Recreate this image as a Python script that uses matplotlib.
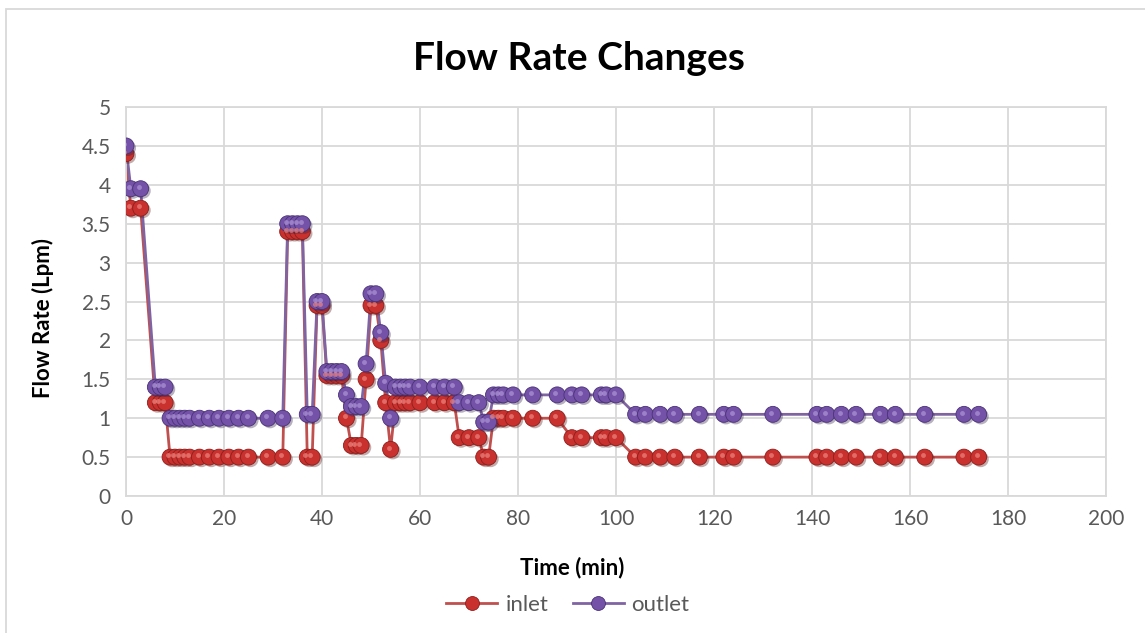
import matplotlib.pyplot as plt
import matplotlib.transforms as mtransforms
import matplotlib.patheffects as pe
from matplotlib.patches import Rectangle
from matplotlib.lines import Line2D

plt.rcParams['font.family'] = ['Lato', 'DejaVu Sans']

time = [0, 1, 3, 6, 7, 8, 9, 10, 11, 12, 13, 15, 17, 19, 21, 23, 25, 29, 32,
        33, 34, 35, 36, 37, 38, 39, 40, 41, 42, 43, 44, 45, 46, 47, 48, 49,
        50, 51, 52, 53, 54, 55, 56, 57, 58, 60, 63, 65, 67, 68, 70, 72, 73, 74,
        75, 76, 77, 79, 83, 88, 91, 93, 97, 98, 100, 104, 106, 109, 112, 117,
        122, 124, 132, 141, 143, 146, 149, 154, 157, 163, 171, 174]

inlet = [4.4, 3.7, 3.7, 1.2, 1.2, 1.2, 0.5, 0.5, 0.5, 0.5, 0.5, 0.5, 0.5, 0.5, 0.5, 0.5, 0.5, 0.5, 0.5,
         3.4, 3.4, 3.4, 3.4, 0.5, 0.5, 2.45, 2.45, 1.55, 1.55, 1.55, 1.55, 1.0, 0.65, 0.65, 0.65, 1.5,
         2.45, 2.45, 2.0, 1.2, 0.6, 1.2, 1.2, 1.2, 1.2, 1.2, 1.2, 1.2, 1.2, 0.75, 0.75, 0.75, 0.5, 0.5,
         1.0, 1.0, 1.0, 1.0, 1.0, 1.0, 0.75, 0.75, 0.75, 0.75, 0.75, 0.5, 0.5, 0.5, 0.5, 0.5,
         0.5, 0.5, 0.5, 0.5, 0.5, 0.5, 0.5, 0.5, 0.5, 0.5, 0.5, 0.5]

outlet = [4.5, 3.95, 3.95, 1.4, 1.4, 1.4, 1.0, 1.0, 1.0, 1.0, 1.0, 1.0, 1.0, 1.0, 1.0, 1.0, 1.0, 1.0, 1.0,
          3.5, 3.5, 3.5, 3.5, 1.05, 1.05, 2.5, 2.5, 1.6, 1.6, 1.6, 1.6, 1.3, 1.15, 1.15, 1.15, 1.7,
          2.6, 2.6, 2.1, 1.45, 1.0, 1.4, 1.4, 1.4, 1.4, 1.4, 1.4, 1.4, 1.4, 1.2, 1.2, 1.2, 0.95, 0.95,
          1.3, 1.3, 1.3, 1.3, 1.3, 1.3, 1.3, 1.3, 1.3, 1.3, 1.3, 1.05, 1.05, 1.05, 1.05, 1.05,
          1.05, 1.05, 1.05, 1.05, 1.05, 1.05, 1.05, 1.05, 1.05, 1.05, 1.05, 1.05]

series = [
    ('inlet', inlet, '#C0504D', '#C8312E', '#EE8580', '#8E1E1B'),
    ('outlet', outlet, '#8064A2', '#7352A8', '#AE95D6', '#4A3277'),
]

fig = plt.figure(figsize=(11.45, 6.33), dpi=100, facecolor='white')
ax = fig.add_axes([0.110, 0.2164, 0.856, 0.6145])

shadow = [pe.SimplePatchShadow(offset=(1.5, -1.5), alpha=0.35, rho=0.4), pe.Normal()]
highlight = mtransforms.offset_copy(ax.transData, fig=fig, x=-1.3, y=1.3, units='points')

for name, vals, lc, mc, hc, ec in series:
    ax.plot(time, vals, color=lc, linewidth=2, zorder=2)
    ax.plot(time, vals, linestyle='none', marker='o', markersize=11.5,
            markerfacecolor=mc, markeredgecolor=ec, markeredgewidth=0.6,
            path_effects=shadow, zorder=3)
    ax.plot(time, vals, linestyle='none', marker='o', markersize=3.5,
            markerfacecolor=hc, markeredgecolor='none', alpha=0.7,
            transform=highlight, zorder=4)

ax.set_xlim(0, 200)
ax.set_ylim(0, 5)
ax.set_xticks(range(0, 201, 20))
ax.set_yticks([0, 0.5, 1, 1.5, 2, 2.5, 3, 3.5, 4, 4.5, 5])
ax.set_yticklabels(['0', '0.5', '1', '1.5', '2', '2.5', '3', '3.5', '4', '4.5', '5'])
ax.grid(True, color='#D9D9D9', linewidth=1.3)
ax.set_axisbelow(True)
for s in ax.spines.values():
    s.set_color('#D9D9D9')
    s.set_linewidth(1.3)
ax.tick_params(length=0, labelsize=15, labelcolor='#595959', pad=9)
ax.tick_params(axis='y', pad=11)

fig.text(0.4996, 0.104, 'Time (min)', ha='center', va='center',
         fontsize=16, fontweight='bold')
fig.text(0.0376, 0.4976, 'Flow Rate (Lpm)', ha='center', va='center', rotation=90,
         fontsize=16, fontweight='bold')
fig.text(0.506, 0.908, 'Flow Rate Changes', ha='center', va='center',
         fontsize=28, fontweight='bold')

handles = [
    Line2D([], [], color='#C0504D', linewidth=2, marker='o', markersize=10,
           markerfacecolor='#C8312E', markeredgecolor='#8E1E1B', markeredgewidth=0.6),
    Line2D([], [], color='#8064A2', linewidth=2, marker='o', markersize=10,
           markerfacecolor='#7352A8', markeredgecolor='#4A3277', markeredgewidth=0.6),
]
leg = fig.legend(handles, ['inlet', 'outlet'], loc='center', bbox_to_anchor=(0.496, 0.044),
                 ncol=2, frameon=False, fontsize=16, handlelength=2.3, columnspacing=1.1,
                 handletextpad=0.35)
for t in leg.get_texts():
    t.set_color('#595959')

# outer chart border
fig.add_artist(Rectangle((6 / 1145, -0.5), 1.5, 1 - 9 / 633 + 0.5, transform=fig.transFigure,
                         fill=False, edgecolor='#D9D9D9', linewidth=1.3))

fig.savefig('out.png', dpi=100, facecolor='white')
